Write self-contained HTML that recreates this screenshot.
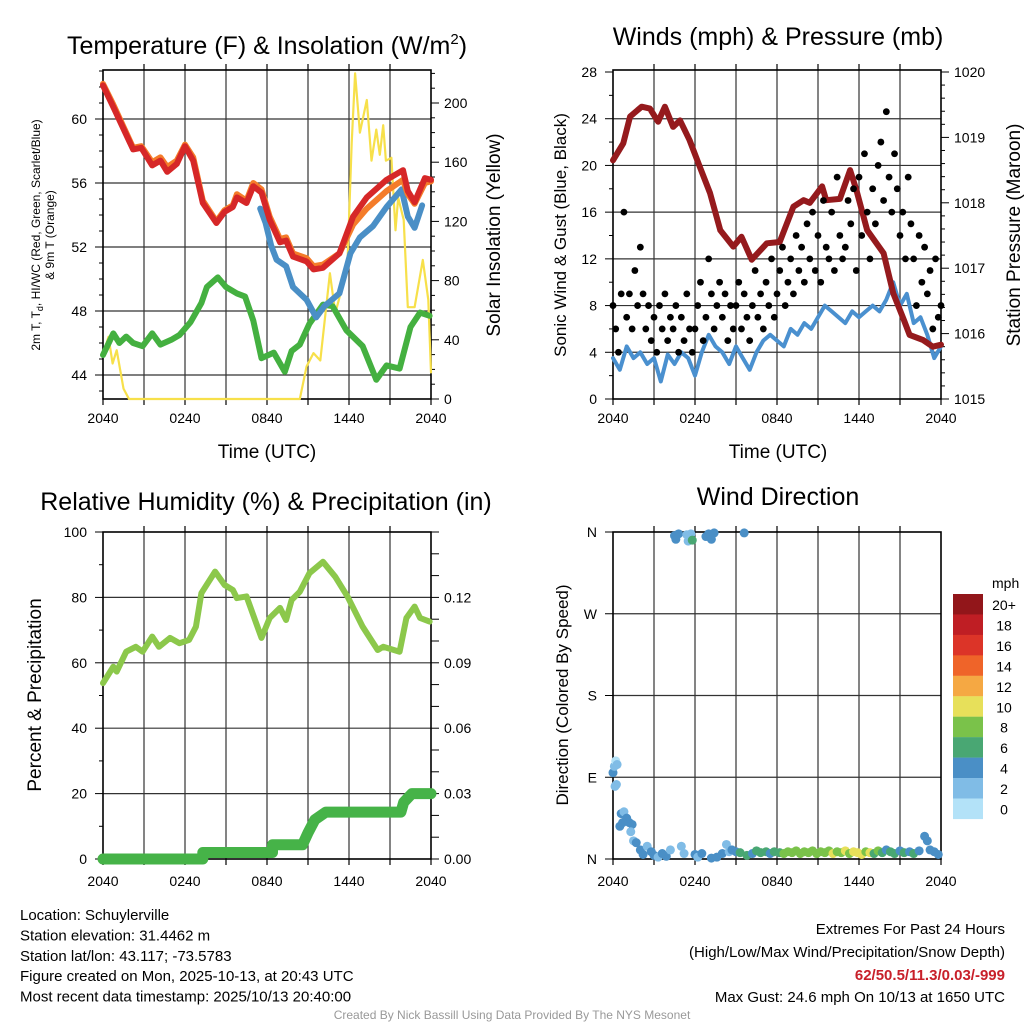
<!DOCTYPE html>
<html><head><meta charset="utf-8"><style>
body{margin:0;background:#fff;}
svg{display:block;font-family:"Liberation Sans",sans-serif;}
</style></head><body>
<svg id="c" width="1024" height="1024" viewBox="0 0 1024 1024">
<rect width="1024" height="1024" fill="#fff"/>
<g id="g"></g>
</svg>
<script>
// ---------- Temperature panel data ----------
const tempTimes=[0,0.75,2.2,2.8,3.6,4.2,4.7,5.4,6.0,6.6,7.3,8.3,8.9,9.5,9.8,10.5,11,11.6,12.2,12.95,13.4,13.9,14.9,15.4,16.1,17.3,18.3,19.3,20.75,21.95,22.3,22.8,23.55,24];
const tempRed=[62.1,60.75,58.1,58.2,57.1,57.4,56.7,57.2,58.3,57.4,54.75,53.5,54.2,54.5,55.1,54.75,55.8,55.4,53.7,52.3,52.4,51.4,51.1,50.6,50.7,51.6,53.9,55.1,56.2,56.8,55.5,54.8,56.3,56.2];
const tempOrange=[62.2,60.9,58.2,58.3,57.3,57.6,57.0,57.4,58.4,57.6,54.9,53.6,54.3,54.6,55.3,54.9,56.0,55.6,53.9,52.5,52.6,51.6,51.3,50.8,50.9,51.6,53.4,54.4,55.5,56.2,55.3,54.7,56.0,56.1];
const hwTimes=[11.5,11.9,12.3,12.7,13.4,13.9,14.9,15.6,16.2,17.3,18.1,18.8,19.75,20.75,21.85,22.3,22.8,23.35];
const hwVals=[54.4,53.5,52.1,51.2,50.8,49.5,48.7,47.6,48.3,49.1,51.6,52.6,53.3,54.5,55.6,53.9,53.2,54.6];
const dewTimes=[0,0.75,1.2,1.7,2.2,2.9,3.6,4.2,5.0,5.6,6.4,7.2,7.6,8.4,9.0,9.8,10.4,11.0,11.6,12.5,13.3,13.8,14.4,15.1,16.1,16.8,17.8,19.0,20.0,20.75,21.7,22.5,23.2,23.9];
const dewVals=[45.25,46.6,46.0,46.4,46.0,45.8,46.6,45.9,46.2,46.5,47.3,48.5,49.5,50.1,49.5,49.1,48.9,47.4,45.05,45.4,44.2,45.5,45.9,47.2,48.4,48.3,46.8,45.8,43.7,44.6,44.4,47.0,47.9,47.7];
const solTimes=[0,0.4,0.7,1.0,1.5,1.9,14.4,14.9,15.4,15.9,16.6,17.0,17.4,17.9,18.2,18.45,18.8,19.3,19.65,20.0,20.25,20.5,20.7,21.1,21.4,21.6,22.0,22.3,22.8,23.4,23.8,24];
const solVals=[30,42,24,33,7,0,0,22,31,26,85,58,72,94,173,220,180,202,161,182,165,185,161,163,114,136,121,62,62,94,67,18];
const tempTicks=[44,48,52,56,60];
const solTicks=[0,40,80,120,160,200];
const timeTickLabels=["2040","0240","0840","1440","2040"];
// ---------- Wind panel data ----------
const presTimes=[0,0.75,1.25,2.1,2.7,3.3,3.8,4.4,4.9,5.6,6.35,7.1,7.85,8.8,9.4,10.15,11.25,12.2,13.2,13.95,14.4,15.3,15.6,16.6,17.35,17.8,18.6,19.8,20.5,21.3,21.7,22.7,23.4,24];
const presVals=[1018.65,1018.91,1019.32,1019.47,1019.44,1019.24,1019.47,1019.16,1019.26,1018.96,1018.55,1018.15,1017.58,1017.33,1017.48,1017.13,1017.38,1017.40,1017.94,1018.04,1018.0,1018.25,1018.04,1018.06,1018.5,1018.2,1017.58,1017.23,1016.62,1016.2,1015.98,1015.9,1015.8,1015.83];
const sonicVals=[3.5,2.5,4.5,3.5,4.0,3.0,3.5,1.5,3.8,3.0,4.0,3.5,2.0,4.0,5.5,4.5,4.0,3.0,4.5,3.5,2.5,4.0,5.0,5.5,5.0,4.5,6.0,5.5,6.5,6.0,7.0,8.0,7.5,7.0,6.5,7.5,7.0,7.5,8.0,7.5,8.5,10.0,8.0,9.0,6.5,7.0,5.5,3.5,4.5];
const gustVals=[8,6,4,9,16,7,9,6,11,8,13,9,6,8,5,7,4,8,6,9,5,7,6,8,4,7,5,9,6,4,6,8,10,5,7,12,9,6,8,10,7,9,5,8,6,8,10,6,9,7,5,8,11,7,9,6,10,8,12,7,9,11,13,8,10,12,9,14,11,13,10,15,12,16,11,14,10,17,13,12,16,11,19,14,12,13,17,15,18,11,19,14,21,16,12,18,15,20,22,17,24.6,19,16,21,18,14,16,12,19,15,12,8,14,10,13,9,11,6,12,7,8];
const windTicks=[0,4,8,12,16,20,24,28];
const presTicks=[1015,1016,1017,1018,1019,1020];
// ---------- RH panel data ----------
const rhTimes=[0,0.75,1.0,1.7,2.4,2.9,3.6,4.1,4.9,5.6,6.3,6.8,7.2,8.2,8.9,9.5,9.8,10.5,11.6,12.2,12.95,13.4,13.8,14.4,15.1,16.1,17.0,17.9,19.0,20.1,20.5,21.7,22.2,22.8,23.2,23.9];
const rhVals=[53.8,58.8,57.3,63.4,64.9,63.4,68,64.9,67.6,66,67,71,81.3,87.9,83.8,82.3,79.8,80.3,67.6,73.7,76.8,73.1,79.2,81.7,87.4,90.9,86.3,80.2,71,63.9,64.9,63.4,73.7,77.2,73.7,72.6];
const pcpTimes=[0,7.3,7.3,12.4,12.4,14.6,15.0,15.5,16.3,21.8,22.0,22.6,24];
const pcpVals=[0,0,0.003,0.003,0.0065,0.0065,0.012,0.018,0.0215,0.0215,0.026,0.03,0.03];
const rhTicks=[0,20,40,60,80,100];
const pcpTicks=[0,0.03,0.06,0.09,0.12];
// ---------- Wind direction data ----------
const dirTimes=[0.0,0.1,0.2,0.3,0.15,0.25,0.6,0.8,1.0,1.2,1.4,0.7,0.5,1.3,1.5,1.7,2.0,2.2,2.5,2.8,3.0,3.3,3.6,3.9,4.2,4.5,4.6,4.8,5.0,5.2,5.4,5.5,5.7,5.8,6.0,6.2,6.5,6.8,7.0,7.2,7.4,7.2,7.6,8.0,8.3,8.5,8.7,9.0,9.3,9.6,9.8,10.2,10.5,10.8,11.2,11.5,11.8,12.2,12.5,12.8,13.1,13.4,13.7,14.0,14.3,14.6,14.9,15.2,15.5,15.8,16.1,16.4,16.7,17.0,17.3,17.6,17.9,18.2,18.5,18.8,19.1,19.4,19.7,20.0,20.3,20.6,21.0,21.3,21.7,22.0,22.4,22.8,23.0,23.2,23.5,23.8];
const dirVals=[95,102,108,104,80,82,50,52,45,40,38,40,36,30,20,18,10,5,14,8,4,2,6,3,10,356,352,358,14,6,357,350,358,351,5,2,6,355,358,352,359,1,2,6,16,8,10,8,7,359,4,6,9,7,8,6,8,7,6,8,7,9,6,8,7,9,6,8,7,9,6,8,7,9,6,8,7,5,8,7,6,9,7,10,8,6,9,7,8,6,9,25,20,10,8,5];
const dirSpd=[4,3,1,2,2,2,4,3,4,4,4,4,4,3,2,4,4,4,2,4,4,2,4,4,2,4,4,4,2,2,2,2,2,6,4,2,4,4,4,4,4,4,4,4,2,2,4,4,6,4,6,4,6,6,6,4,6,6,8,8,8,8,8,8,8,8,8,8,8,8,10,8,8,10,8,10,10,10,8,10,6,8,6,4,6,6,4,6,4,6,4,4,4,4,4,4];
const cbLabels=["20+","18","16","14","12","10","8","6","4","2","0"];
const cbColors=["#92161a","#bf1e24","#dc3428","#ef6429","#f5a843","#e7e05a","#7ac24a","#49a773","#4a8fc6","#80bce6","#b3e2f8"];
const dirTickLabels=["N","E","S","W","N"];

const NS="http://www.w3.org/2000/svg";
const G=document.getElementById('g');
function mk(tag,attrs,parent){const e=document.createElementNS(NS,tag);for(const k in attrs)e.setAttribute(k,attrs[k]);(parent||G).appendChild(e);return e;}
function txt(s,x,y,size,anchor,extra){const e=mk('text',Object.assign({x:x,y:y,'font-size':size,'text-anchor':anchor||'start',fill:'#000'},extra||{}));e.textContent=s;return e;}

const xL=t=>103+t*(328/24);
const xR=t=>613+t*(328/24);
const yTemp=v=>375-(v-44)*16;
const ySol=v=>399-v*1.48;
const yWind=v=>399-v*(327/28);
const yPres=v=>399-(v-1015)*(327/5);
const yRH=v=>859-v*3.27;
const yPcp=v=>859-v*(327/0.15);
const yDir=v=>859-v*(327/360);

function frame(x0,x1,y0,y1,hg,name){
  const g=mk('g',{});
  
  
  for(let i=1;i<8;i++){const x=x0+(x1-x0)*i/8;mk('line',{x1:x,x2:x,y1:y0,y2:y1,stroke:'#333','stroke-width':1.2},g);
    mk('line',{x1:x,x2:x,y1:y1,y2:y1+6,stroke:'#000','stroke-width':1.2},g);mk('line',{x1:x,x2:x,y1:y0,y2:y0-6,stroke:'#000','stroke-width':1.2},g);}
  hg.forEach(y=>mk('line',{x1:x0,x2:x1,y1:y,y2:y,stroke:'#333','stroke-width':1.2},g));
  const r=mk('rect',{x:x0,y:y0,width:x1-x0,height:y1-y0,fill:'none',stroke:'#000','stroke-width':1.6},g);
  
  
  [0,8].forEach(i=>{const x=x0+(x1-x0)*i/8;mk('line',{x1:x,x2:x,y1:y1,y2:y1+6,stroke:'#000','stroke-width':1.2},g);});
}
function timeLabels(x0,y,name){
  timeTickLabels.forEach((s,i)=>{const t=txt(s,x0+i*82,y,14,'middle');
    
    });
}
function line(ts,vs,fx,fy,color,w,name){
  const d=ts.map((t,i)=>(i?'L':'M')+fx(t).toFixed(1)+','+fy(vs[i]).toFixed(1)).join('');
  const p=mk('path',{d:d,fill:'none',stroke:color,'stroke-width':w,'stroke-linejoin':'round','stroke-linecap':'round'});
  
  
  return p;
}

// ===== Panel 1: Temperature =====
frame(103,431,70,399,tempTicks.map(yTemp),'temperature');
for(let v=43;v<=63;v++){mk('line',{x1:103,x2:v%4==0?95:99,y1:yTemp(v),y2:yTemp(v),stroke:'#000','stroke-width':1});}
for(let v=0;v<=220;v+=10){mk('line',{x1:431,x2:v%40==0?439:435,y1:ySol(v),y2:ySol(v),stroke:'#000','stroke-width':1});}
tempTicks.forEach(v=>{const t=txt(String(v),87,yTemp(v)+5,14,'end');
  
  });
solTicks.forEach(v=>{const t=txt(String(v),444,ySol(v)+5,14,'start');
  
  });
timeLabels(103,423,'temperature');
line(solTimes,solVals,xL,ySol,'#f7e04a',2.2,'solar-insolation-line');
line(dewTimes,dewVals,xL,yTemp,'#44b040',6,'dewpoint-line');
line(hwTimes,hwVals,xL,yTemp,'#4a8fc6',6,'heat-index-wind-chill-line');
line(tempTimes,tempOrange,xL,yTemp,'#f47c2a',6,'temp-9m-line');
line(tempTimes,tempRed,xL,yTemp,'#d62728',6,'temp-2m-line');
{const t=txt('',267,54,25,'middle');t.innerHTML='Temperature (F) &amp; Insolation (W/m<tspan dy="-10" font-size="15">2</tspan><tspan dy="10">)</tspan>';
 
 }
{const t=txt('Time (UTC)',267,458,19,'middle');}
{const t=txt('',0,0,12,'middle',{transform:'translate(40,235) rotate(-90)'});
 t.innerHTML='2m T, T<tspan font-size="9" dy="3">d</tspan><tspan dy="-3">, HI/WC (Red, Green, Scarlet/Blue)</tspan>';
 
 const t2=txt('',0,0,12,'middle',{transform:'translate(54,235) rotate(-90)'});t2.textContent='& 9m T (Orange)';
 }
{const t=txt('Solar Insolation (Yellow)',0,0,19,'middle',{transform:'translate(500,235) rotate(-90)'});}

// ===== Panel 2: Winds =====
frame(613,941,70,399,[4,8,12,16,20,24].map(yWind),'winds');
for(let v=0;v<=28;v+=2){mk('line',{x1:613,x2:v%4==0?605:609,y1:yWind(v),y2:yWind(v),stroke:'#000','stroke-width':1});}
for(let v=1015;v<=1020.01;v+=0.2){const maj=Math.abs(v-Math.round(v))<0.01;mk('line',{x1:941,x2:maj?949:945,y1:yPres(v),y2:yPres(v),stroke:'#000','stroke-width':1});}
windTicks.forEach(v=>{const t=txt(String(v),597,yWind(v)+5,14,'end');
  
  });
presTicks.forEach(v=>{const t=txt(String(v),954,yPres(v)+5,14,'start');
  
  });
timeLabels(613,423,'winds');
line(sonicVals.map((v,i)=>i*0.5),sonicVals,xR,yWind,'#4a90cf',4,'sonic-wind-line');
line(presTimes,presVals,xR,yPres,'#951a1d',6,'pressure-line');
gustVals.forEach((v,i)=>{const c=mk('circle',{cx:xR(i*0.2),cy:yWind(v),r:3.4,fill:'#000'});
  
  });
{const t=txt('Winds (mph) & Pressure (mb)',778,45,25,'middle');}
{const t=txt('Time (UTC)',778,458,19,'middle');}
{const t=txt('Sonic Wind & Gust (Blue, Black)',0,0,17,'middle',{transform:'translate(566,235) rotate(-90)'});}
{const t=txt('Station Pressure (Maroon)',0,0,19,'middle',{transform:'translate(1020,235) rotate(-90)'});}

// ===== Panel 3: RH =====
frame(103,431,532,859,[20,40,60,80].map(yRH),'humidity');
for(let v=0;v<=100;v+=10){mk('line',{x1:103,x2:v%20==0?95:99,y1:yRH(v),y2:yRH(v),stroke:'#000','stroke-width':1});}
for(let v=0;v<=0.15001;v+=0.01){mk('line',{x1:431,x2:439,y1:yPcp(v),y2:yPcp(v),stroke:'#000','stroke-width':1});}
rhTicks.forEach(v=>{const t=txt(String(v),87,yRH(v)+5,14,'end');
  
  });
pcpTicks.forEach(v=>{const t=txt(v.toFixed(2),444,yPcp(v)+5,14,'start');
  
  });
timeLabels(103,886,'humidity');
line(rhTimes,rhVals,xL,yRH,'#8cc84b',6,'relative-humidity-line');
line(pcpTimes,pcpVals,xL,yPcp,'#46b348',11,'precipitation-line');
{const t=txt('Relative Humidity (%) & Precipitation (in)',266,510,25,'middle');}
{const t=txt('Percent & Precipitation',0,0,19,'middle',{transform:'translate(41,695) rotate(-90)'});}

// ===== Panel 4: Wind direction =====
frame(613,941,532,859,[90,180,270].map(yDir),'wind-direction');
[0,90,180,270,360].forEach(v=>mk('line',{x1:613,x2:605,y1:yDir(v),y2:yDir(v),stroke:'#000','stroke-width':1}));
dirTickLabels.forEach((s,i)=>{const t=txt(s,597,yDir(i*90)+5,14,'end');
  
  });
timeLabels(613,886,'wind-direction');
dirTimes.forEach((t,i)=>{const idx=10-Math.min(10,Math.floor(dirSpd[i]/2));
  const c=mk('circle',{cx:xR(t),cy:yDir(dirVals[i]),r:4.5,fill:cbColors[idx]});
  
  });
{const t=txt('Wind Direction',778,505,25,'middle');}
{const t=txt('Direction (Colored By Speed)',0,0,17,'middle',{transform:'translate(568,695) rotate(-90)'});}
{const t=txt('mph',992,588,14,'start');}
cbColors.forEach((c,i)=>{const r=mk('rect',{x:953,y:594+i*20.45,width:30,height:20.6,fill:c});
  
  
  const t=txt(cbLabels[i],1004,594+i*20.45+16,14,'middle');
  
  });

// ===== Footer =====
const infoLines=["Location: Schuylerville","Station elevation: 31.4462 m","Station lat/lon: 43.117; -73.5783","Figure created on Mon, 2025-10-13, at 20:43 UTC","Most recent data timestamp: 2025/10/13 20:40:00"];
infoLines.forEach((s,i)=>{const t=txt(s,20,920+i*20.4,15,'start');
  
  });
{const t=txt('Extremes For Past 24 Hours',1005,934,15,'end');}
{const t=txt('(High/Low/Max Wind/Precipitation/Snow Depth)',1005,957,15,'end');}
{const t=txt('62/50.5/11.3/0.03/-999',1005,980,15,'end',{fill:'#c8202a','font-weight':'bold'});}
{const t=txt('Max Gust: 24.6 mph On 10/13 at 1650 UTC',1005,1002,15,'end');}
{const t=txt('Created By Nick Bassill Using Data Provided By The NYS Mesonet',512,1019,12,'middle',{fill:'#999'});}
</script>
</body></html>
